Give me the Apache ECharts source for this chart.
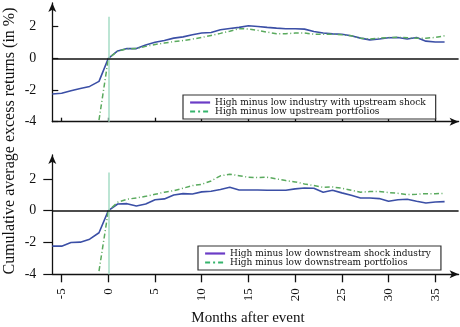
<!DOCTYPE html>
<html><head><meta charset="utf-8">
<script src="https://cdn.jsdelivr.net/npm/echarts@6/dist/echarts.min.js"></script>
<style>html,body{margin:0;padding:0;background:#fff}#c{width:460px;height:327px}</style>
</head><body><div id="c"></div>
<script>
var months = [];
for (var m = -6; m <= 36; m++) months.push(m);
var xTicks = [-5, 0, 5, 10, 15, 20, 25, 30, 35];
var yTicks = [-4, -2, 0, 2];
var names = [
  'High minus low industry with upstream shock',
  'High minus low upstream portfolios',
  'High minus low downstream shock industry',
  'High minus low downstream portfolios'
];
// -6 .. 36
var upIndustry = [-2.25,-2.2,-2.04,-1.9,-1.77,-1.45,0,0.47,0.62,0.62,0.85,1.02,1.13,1.28,1.36,1.49,1.6,1.64,1.81,1.89,1.96,2.06,2.02,1.96,1.91,1.87,1.87,1.85,1.7,1.6,1.55,1.53,1.43,1.28,1.17,1.23,1.3,1.32,1.23,1.32,1.09,1.04,1.04];
var upPortfolio = [null,null,null,null,null,-3.9,0,0.45,0.6,0.62,0.76,0.88,0.97,1.06,1.13,1.22,1.32,1.45,1.58,1.72,1.88,1.86,1.77,1.66,1.55,1.56,1.6,1.6,1.53,1.53,1.53,1.49,1.43,1.28,1.23,1.28,1.32,1.34,1.3,1.28,1.28,1.32,1.43];
var downIndustry = [-2.23,-2.23,-2.0,-1.98,-1.79,-1.39,0,0.42,0.44,0.29,0.42,0.69,0.74,0.99,1.07,1.05,1.18,1.22,1.33,1.47,1.3,1.3,1.3,1.28,1.28,1.28,1.37,1.43,1.41,1.16,1.28,1.12,0.97,0.8,0.8,0.76,0.59,0.69,0.72,0.59,0.48,0.55,0.57];
var downPortfolio = [null,null,null,null,null,-3.8,0,0.53,0.72,0.8,0.9,1.03,1.16,1.26,1.41,1.58,1.66,1.87,2.19,2.29,2.2,2.1,2.08,2.1,2.0,1.89,1.81,1.68,1.58,1.47,1.49,1.41,1.28,1.16,1.2,1.2,1.14,1.09,1.01,1.03,1.07,1.07,1.09];

function pairs(vals){ return months.map(function(m,i){ return [m, vals[i]]; }); }

var serif = 'Liberation Serif';
var axisColor = '#111';
var blue = '#3b4fa6', green = '#5aaa5e';
var legBlue = '#6b3cc6', legGreen = '#35b46c';
var dashDot = [5, 2.5, 1, 2.5];
var hidden = {color:'rgba(0,0,0,0)', borderColor:'rgba(0,0,0,0)', borderWidth:0, opacity:0};

function xAxisCfg(gi, bottomPanel){
  return {
    type:'value', gridIndex:gi, min:-6, max:37.5,
    axisLine:{onZero:false, symbol:['none','arrow'], symbolSize:[6,9], lineStyle:{color:axisColor, width:1.3}},
    axisTick:{show:true, inside:!bottomPanel, length:bottomPanel?8:4, customValues:xTicks, lineStyle:{color:axisColor, width:1.3}},
    axisLabel:{show:bottomPanel, customValues:xTicks, rotate:90, margin:14, fontFamily:serif, fontSize:13, color:'#111'},
    splitLine:{show:false}
  };
}
function yAxisCfg(gi, bottomPanel){
  return {
    type:'value', gridIndex:gi, min:-4, max:3.5,
    axisLine:{onZero:false, symbol:['none','arrow'], symbolSize:[6,9], lineStyle:{color:axisColor, width:1.3}},
    axisTick:{show:true, inside:!bottomPanel, length:bottomPanel?9:6, customValues:yTicks, lineStyle:{color:axisColor, width:1.2}},
    axisLabel:{customValues:yTicks, margin:16, fontFamily:serif, fontSize:14, color:'#111'},
    splitLine:{show:false}
  };
}
function refLines(vTop){
  return {
    silent:true, symbol:['none','none'], label:{show:false},
    data:[
      [{coord:[0,-4], lineStyle:{color:'#a6dcc6', width:1.5, type:'solid'}}, {coord:[0,vTop]}],
      {yAxis:0, lineStyle:{color:'#111', width:1.5, type:'solid'}}
    ]
  };
}
function legendCfg(left, top, n1, n2){
  return {left:left, top:top, orient:'vertical', itemWidth:20, itemHeight:8, itemGap:0,
     padding:[3,10,3,6], backgroundColor:'#fff', borderColor:'#333', borderWidth:1.2,
     textStyle:{fontFamily:'DejaVu Serif', fontSize:9, lineHeight:9, color:'#111'},
     itemStyle:hidden,
     data:[{name:n1, lineStyle:{color:legBlue, width:2.2, type:'solid'}, itemStyle:hidden},
           {name:n2, lineStyle:{color:legGreen, width:2, type:[5,3,2,3]}, itemStyle:hidden}]};
}

var chart = echarts.init(document.getElementById('c'), null, {renderer:'canvas'});
chart.setOption({
  animation:false,
  grid:[
    {left:52.3, top:3, width:406.3, height:118.7},
    {left:52.3, top:155, width:406.3, height:119.3}
  ],
  xAxis:[xAxisCfg(0,false), xAxisCfg(1,true)],
  yAxis:[yAxisCfg(0,false), yAxisCfg(1,true)],
  legend:[legendCfg(183, 95, names[0], names[1]), legendCfg(198, 246, names[2], names[3])],
  series:[
    {name:names[0], type:'line', xAxisIndex:0, yAxisIndex:0, data:pairs(upIndustry), symbol:'none',
     lineStyle:{color:blue, width:1.6}, itemStyle:{color:blue}, z:3, markLine:refLines(2.63)},
    {name:names[1], type:'line', xAxisIndex:0, yAxisIndex:0, data:pairs(upPortfolio), symbol:'none', connectNulls:false,
     lineStyle:{color:green, width:1.5, type:dashDot}, itemStyle:{color:green}, z:4},
    {name:names[2], type:'line', xAxisIndex:1, yAxisIndex:1, data:pairs(downIndustry), symbol:'none',
     lineStyle:{color:blue, width:1.6}, itemStyle:{color:blue}, z:3, markLine:refLines(2.4)},
    {name:names[3], type:'line', xAxisIndex:1, yAxisIndex:1, data:pairs(downPortfolio), symbol:'none', connectNulls:false,
     lineStyle:{color:green, width:1.5, type:dashDot}, itemStyle:{color:green}, z:4}
  ],
  graphic:[
    {type:'text', x:10, y:141, rotation:Math.PI/2,
     style:{text:'Cumulative average excess returns (in %)', font:'16px "Liberation Serif"', fill:'#111', align:'center', verticalAlign:'middle'}},
    {type:'text', x:248, y:318,
     style:{text:'Months after event', font:'15px "Liberation Serif"', fill:'#111', align:'center', verticalAlign:'middle'}}
  ]
});
</script></body></html>
